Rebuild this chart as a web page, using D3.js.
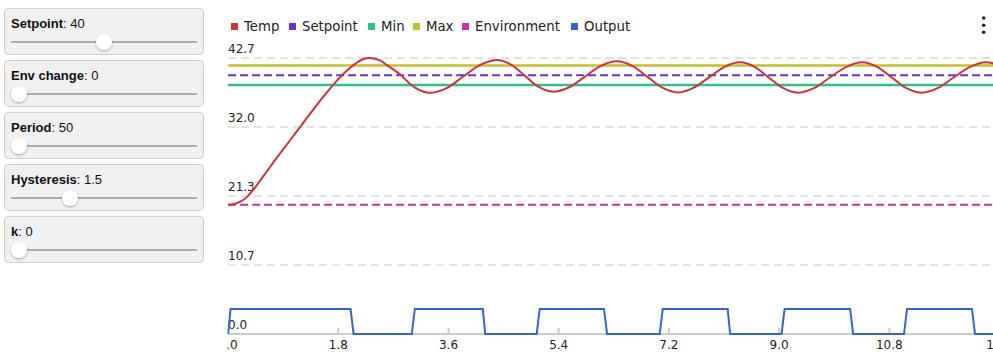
<!DOCTYPE html>
<html><head><meta charset="utf-8">
<script src="https://cdn.jsdelivr.net/npm/d3@7"></script>
<style>
html,body{margin:0;padding:0;overflow:hidden;background:#fff;}
svg{display:block;}
</style></head><body>
<svg id="c" width="993" height="358"></svg>
<script>
// ---- controls ----
const sliderNames  = ["Setpoint", "Env change", "Period", "Hysteresis", "k"];
const sliderValues = [40, 0, 50, 1.5, 0];
const sliderMins   = [0, 0, 50, 0, 0];
const sliderMaxs   = [80, 20, 500, 5, 1];

// ---- series ----
const seriesNames  = ["Temp", "Setpoint", "Min", "Max", "Environment", "Output"];
const seriesColors = ["#cc3333", "#6633cc", "#2ebf8a", "#c4bf2e", "#c2379a", "#3366cc"];

const setpointValue = 40;
const minValue = 38.5;
const maxValue = 41.5;
const environmentValue = 20;

const tempT = [0, 0.1, 0.2, 0.31, 0.42, 0.6, 0.8, 1.0, 1.2, 1.4, 1.6, 1.8, 1.95, 2.08, 2.24,
  2.48, 2.59, 2.8, 3.05, 3.3, 3.57, 3.84, 4.12, 4.39, 4.62, 4.85, 5.08, 5.31, 5.57, 5.83, 6.09, 6.35,
  6.6, 6.85, 7.1, 7.35, 7.6, 7.86, 8.11, 8.36, 8.6, 8.83, 9.07, 9.3, 9.57, 9.83, 10.1, 10.36,
  10.6, 10.84, 11.08, 11.32, 11.59, 11.85, 12.12, 12.38, 12.6];
const tempV = [20.0, 20.1, 20.45, 21.2, 22.4, 24.7, 27.3, 29.8, 32.3, 34.8, 37.2, 39.4, 40.8, 41.8, 42.6,
  42.3, 41.6, 40.2, 38.1, 37.3, 38.0, 39.8, 41.6, 42.35, 41.65, 39.9, 38.15, 37.45, 38.15, 39.8, 41.45, 42.15,
  41.45, 39.75, 38.05, 37.35, 38.05, 39.7, 41.3, 42.0, 41.3, 39.65, 38.0, 37.3, 38.0, 39.65, 41.3, 42.0,
  41.3, 39.65, 38.0, 37.3, 38.0, 39.65, 41.3, 42.0, 41.5];

const outputT = [0, 0.04, 2.0, 2.05, 3.0, 3.05, 4.16, 4.2, 5.04, 5.09, 6.14, 6.19, 7.05, 7.1, 8.16, 8.2,
  9.04, 9.09, 10.16, 10.21, 11.04, 11.09, 12.15, 12.2, 12.6];
const outputV = [0, 1, 1, 0, 0, 1, 1, 0, 0, 1, 1, 0, 0, 1, 1, 0, 0, 1, 1, 0, 0, 1, 1, 0, 0];

const xTicks = [0, 1.8, 3.6, 5.4, 7.2, 9.0, 10.8, 12.6];
const yTicks = [0, 10.667, 21.333, 32, 42.667];
const xDomain = [0, 12.6];
const yDomain = [0, 42.667];

// ---- drawing ----
const svg = d3.select("#c");
const defs = svg.append("defs");
const sh = defs.append("filter").attr("id", "sh").attr("x", "-50%").attr("y", "-50%").attr("width", "200%").attr("height", "200%");
sh.append("feDropShadow").attr("dx", 0).attr("dy", 1).attr("stdDeviation", 1.2).attr("flood-color", "#000").attr("flood-opacity", 0.35);
defs.append("clipPath").attr("id", "plotclip").append("rect").attr("x", 227.5).attr("y", 0).attr("width", 770).attr("height", 358);

// control panel
const sx = d3.scaleLinear().range([19, 189]);
const panel = svg.append("g");
sliderNames.forEach((name, i) => {
  const g = panel.append("g").attr("transform", `translate(0,${52 * i})`);
  g.append("rect").attr("x", 4.5).attr("y", 8.5).attr("width", 199).attr("height", 46).attr("rx", 4)
    .attr("fill", "#f0f0f0").attr("stroke", "#cfcfcf");
  const t = g.append("text").attr("x", 11).attr("y", 27.5)
    .style("font-family", "'Liberation Sans', Arial, sans-serif").style("font-size", "13px").attr("fill", "#111");
  t.append("tspan").attr("font-weight", "bold").text(name);
  t.append("tspan").text(": " + sliderValues[i]);
  g.append("line").attr("x1", 11).attr("x2", 197).attr("y1", 42).attr("y2", 42)
    .attr("stroke", "#adadad").attr("stroke-width", 2);
  sx.domain([sliderMins[i], sliderMaxs[i]]);
  g.append("circle").attr("cx", sx(sliderValues[i])).attr("cy", 42).attr("r", 8)
    .attr("fill", "#fff").attr("filter", "url(#sh)");
});

// chart
const x = d3.scaleLinear().domain(xDomain).range([228.1, 999.5]);
const y = d3.scaleLinear().domain(yDomain).range([334, 58]);
const yOut = d3.scaleLinear().domain([0, 1]).range([334, 309]);
const fmt = d3.format(".1f");
const font = "'DejaVu Sans', Verdana, sans-serif";

const plot = svg.append("g").attr("clip-path", "url(#plotclip)");

// grid
plot.selectAll(".grid").data(yTicks.filter(d => d > 0)).join("line")
  .attr("x1", x(0)).attr("x2", x(xDomain[1]))
  .attr("y1", d => y(d)).attr("y2", d => y(d))
  .attr("stroke", "#d9d9d9").attr("stroke-width", 1.5).attr("stroke-dasharray", "8,5");

// x axis
plot.append("line").attr("x1", x(0)).attr("x2", x(xDomain[1])).attr("y1", y(0)).attr("y2", y(0))
  .attr("stroke", "#cccccc").attr("stroke-width", 2);
plot.selectAll(".xt").data(xTicks).join("line")
  .attr("x1", d => x(d)).attr("x2", d => x(d)).attr("y1", y(0)).attr("y2", y(0) - 6)
  .attr("stroke", "#cccccc").attr("stroke-width", 2);
plot.selectAll(".xl").data(xTicks).join("text")
  .attr("x", d => x(d)).attr("y", 349).attr("text-anchor", "middle")
  .style("font-family", font).style("font-size", "12px").attr("fill", "#222")
  .text(d => fmt(d));
plot.selectAll(".yl").data(yTicks).join("text")
  .attr("x", 228).attr("y", d => y(d) - 5)
  .style("font-family", font).style("font-size", "12px").attr("fill", "#222")
  .text(d => fmt(d));

const line = d3.line().x(d => x(d[0])).y(d => y(d[1]));
const flat = v => [[xDomain[0], v], [xDomain[1], v]];

plot.append("path").attr("d", line(flat(environmentValue))).attr("fill", "none")
  .attr("stroke", seriesColors[4]).attr("stroke-width", 2).attr("stroke-dasharray", "8,4");
plot.append("path").attr("d", line(flat(minValue))).attr("fill", "none")
  .attr("stroke", seriesColors[2]).attr("stroke-width", 2.5);
plot.append("path").attr("d", line(flat(maxValue))).attr("fill", "none")
  .attr("stroke", seriesColors[3]).attr("stroke-width", 2.5);
plot.append("path").attr("d", line(flat(setpointValue))).attr("fill", "none")
  .attr("stroke", seriesColors[1]).attr("stroke-width", 2).attr("stroke-dasharray", "8,4");

const tempLine = d3.line().x(d => x(d[0])).y(d => y(d[1])).curve(d3.curveCatmullRom.alpha(0.5));
plot.append("path").attr("d", tempLine(tempT.map((t, i) => [t, tempV[i]]))).attr("fill", "none")
  .attr("stroke", seriesColors[0]).attr("stroke-width", 2);

const outLine = d3.line().x(d => x(d[0])).y(d => yOut(d[1]));
plot.append("path").attr("d", outLine(outputT.map((t, i) => [t, outputV[i]]))).attr("fill", "none")
  .attr("stroke", seriesColors[5]).attr("stroke-width", 2);

// legend
const legendX = [231, 289, 368, 413, 462, 571];
const legend = svg.append("g");
seriesNames.forEach((n, i) => {
  legend.append("rect").attr("x", legendX[i]).attr("y", 23).attr("width", 7).attr("height", 7)
    .attr("fill", seriesColors[i]);
  legend.append("text").attr("x", legendX[i] + 13).attr("y", 31)
    .style("font-family", font).style("font-size", "13.3px").attr("fill", "#222").text(n);
});

// menu
svg.selectAll(".dot").data([18, 25.2, 32.3]).join("circle")
  .attr("cx", 983.7).attr("cy", d => d).attr("r", 1.8).attr("fill", "#222");
</script>
</body></html>
